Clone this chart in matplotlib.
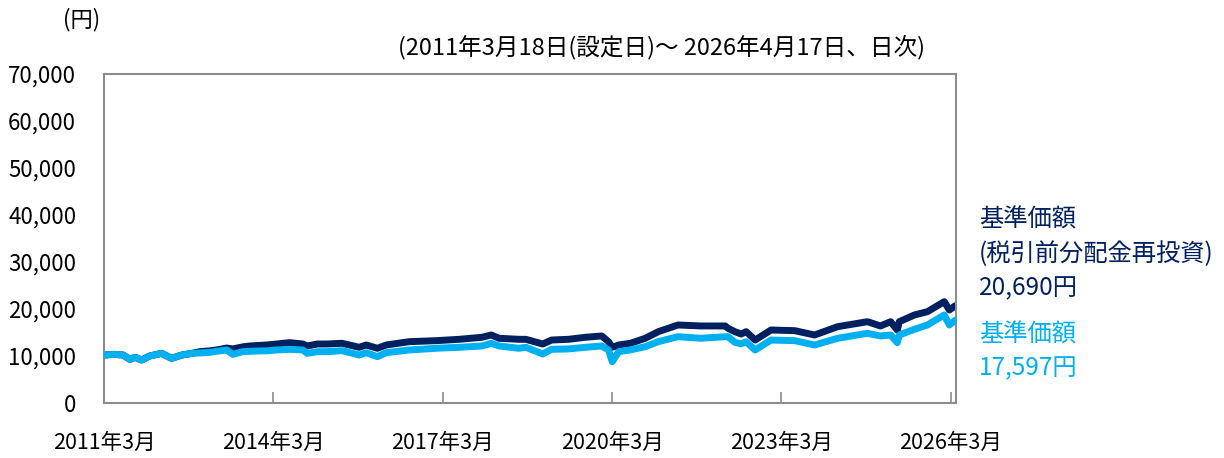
import matplotlib
matplotlib.use("Agg")
import matplotlib.pyplot as plt
import pandas as pd

plt.rcParams['font.family'] = ['Noto Sans CJK JP', 'DejaVu Sans']

dates = ["2011-03-18", "2011-05-25", "2011-07-20", "2011-09-01", "2011-10-05", "2011-11-17",
         "2012-01-08", "2012-03-25", "2012-05-28", "2012-08-03", "2012-10-12", "2012-11-27",
         "2013-01-30", "2013-03-15", "2013-05-20", "2013-06-28", "2013-09-02", "2013-10-16",
         "2013-12-20", "2014-02-03", "2014-04-08", "2014-07-01", "2014-09-24", "2014-10-24",
         "2014-12-28", "2015-02-24", "2015-06-06", "2015-09-24", "2015-11-09", "2016-01-20",
         "2016-03-18", "2016-08-14", "2017-02-03", "2017-07-02", "2017-11-27", "2018-01-26",
         "2018-03-18", "2018-07-24", "2018-09-07", "2018-12-25", "2019-02-21", "2019-06-10",
         "2019-09-27", "2020-01-11", "2020-02-24", "2020-03-19", "2020-04-30", "2020-07-15",
         "2020-10-19", "2021-01-11", "2021-05-19", "2021-10-15", "2022-03-20", "2022-04-08",
         "2022-05-22", "2022-07-01", "2022-08-03", "2022-09-30", "2023-01-11", "2023-06-13",
         "2023-10-20", "2024-03-17", "2024-09-26", "2024-12-19", "2025-02-23", "2025-04-07",
         "2025-04-20", "2025-07-27", "2025-10-19", "2026-02-05", "2026-03-10", "2026-04-17"]

nav = [10210, 10350, 10210, 9290, 9720, 9150,
       10000, 10570, 9500, 10210, 10570, 10650,
       10780, 11000, 11280, 10350, 10920, 11000,
       11070, 11100, 11280, 11420, 11280, 10570,
       10920, 10920, 11130, 10210, 10710, 9860,
       10710, 11280, 11640, 11850, 12130, 12700,
       12130, 11640, 11850, 10430, 11420, 11500,
       11850, 12130, 11280, 8790, 10920, 11300,
       11980, 13050, 14110, 13770, 14110, 14110,
       12900, 12600, 13000, 11280, 13400, 13260,
       12340, 13770, 14830, 14260, 14470, 12840,
       14470, 15680, 16600, 18730, 16600, 17597]

nav_reinv = [10210, 10350, 10210, 9290, 9720, 9150,
             10000, 10570, 9500, 10210, 10600, 10920,
             11100, 11280, 11700, 11500, 11950, 12130,
             12250, 12340, 12550, 12840, 12550, 12130,
             12550, 12550, 12700, 11850, 12340, 11640,
             12340, 13050, 13260, 13550, 13980, 14470,
             13770, 13550, 13550, 12550, 13400, 13550,
             13980, 14260, 13050, 11850, 12340, 12700,
             13770, 15170, 16600, 16390, 16390, 15890,
             15170, 14680, 15170, 13400, 15530, 15390,
             14470, 16240, 17300, 16390, 17300, 15530,
             17300, 18730, 19430, 21560, 19790, 20690]

y_ticks = [0, 10000, 20000, 30000, 40000, 50000, 60000, 70000]
x_ticks = ["2011-03-18", "2014-03-18", "2017-03-18", "2020-03-18", "2023-03-18", "2026-03-18"]
x_labels = ["2011年3月", "2014年3月", "2017年3月", "2020年3月", "2023年3月", "2026年3月"]

dark = "#002060"
light = "#00B0F0"
grey = "#8C8C8C"

d = pd.to_datetime(dates)

fig = plt.figure(figsize=(12.24, 4.58), dpi=100)
ax = fig.add_axes([104/1224, 55/458, (956-104)/1224, (403-74)/458])

ax.plot(d, nav_reinv, color=dark, lw=5, solid_joinstyle='round', solid_capstyle='round', zorder=2)
ax.plot(d, nav, color=light, lw=5, solid_joinstyle='round', solid_capstyle='round', zorder=3)

ax.set_ylim(0, 70000)
ax.set_xlim(pd.Timestamp("2011-03-18"), pd.Timestamp("2026-04-22"))
ax.set_yticks(y_ticks)
ax.set_yticklabels([f"{v:,}" for v in y_ticks], fontsize=16)
ax.tick_params(axis='y', length=0, pad=20)
ax.set_xticks(pd.to_datetime(x_ticks))
ax.set_xticklabels(x_labels, fontsize=15.5)
ax.tick_params(axis='x', direction='in', length=8, color=grey, width=1.2, pad=21)
for s in ax.spines.values():
    s.set_color(grey)
    s.set_linewidth(1.5)

fig.text(100/1224, 1 - 20/458, "(円)", fontsize=16, ha='right', va='center')
fig.text(662/1224, 1 - 47/458, "(2011年3月18日(設定日)～ 2026年4月17日、日次)", fontsize=17,
         ha='center', va='center')

fs = 17.5
fig.text(979/1224, 1 - 220/458, "基準価額", fontsize=fs, color=dark, va='center')
fig.text(979/1224, 1 - 254/458, "(税引前分配金再投資)", fontsize=fs, color=dark, va='center')
fig.text(979/1224, 1 - 288/458, "20,690円", fontsize=fs, color=dark, va='center')
fig.text(979/1224, 1 - 335/458, "基準価額", fontsize=fs, color=light, va='center')
fig.text(979/1224, 1 - 368/458, "17,597円", fontsize=fs, color=light, va='center')

fig.savefig("out.png", dpi=100)
